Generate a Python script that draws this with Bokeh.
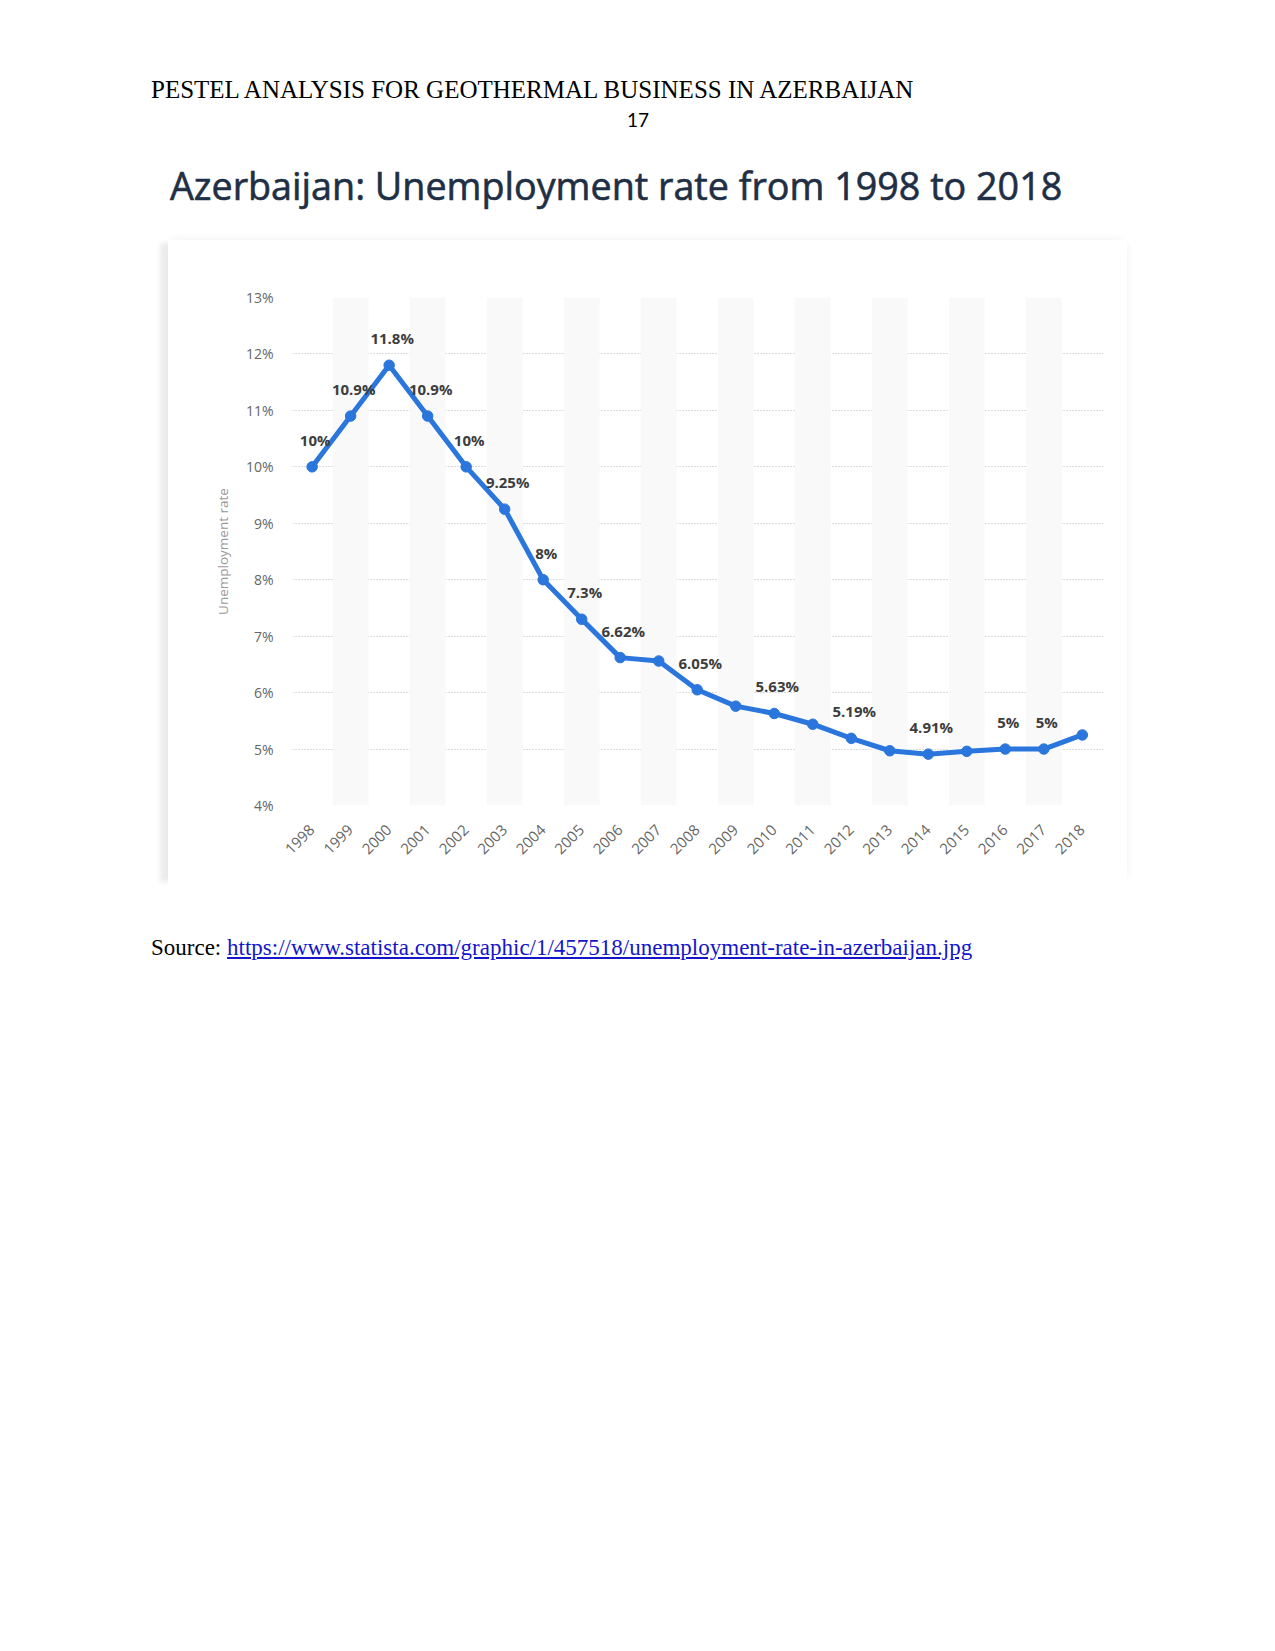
import math
from bokeh.plotting import figure
from bokeh.models import Range1d, FixedTicker, Div, Spacer
from bokeh.layouts import column, row
from bokeh.embed import file_html
from bokeh.resources import INLINE
from bokeh.core.properties import value

# ---------------- data ----------------
years = [1998, 1999, 2000, 2001, 2002, 2003, 2004, 2005, 2006, 2007, 2008,
         2009, 2010, 2011, 2012, 2013, 2014, 2015, 2016, 2017, 2018]
rates = [10.0, 10.9, 11.8, 10.9, 10.0, 9.25, 8.0, 7.3, 6.62, 6.56, 6.05,
         5.76, 5.63, 5.44, 5.19, 4.97, 4.91, 4.96, 5.0, 5.0, 5.25]
point_labels = ["10%", "10.9%", "11.8%", "10.9%", "10%", "9.25%", "8%", "7.3%",
                "6.62%", "", "6.05%", "", "5.63%", "", "5.19%", "", "4.91%",
                "", "5%", "5%", ""]
y_ticks = [4, 5, 6, 7, 8, 9, 10, 11, 12, 13]
y_tick_labels = ["4%", "5%", "6%", "7%", "8%", "9%", "10%", "11%", "12%", "13%"]
band_years = [1999, 2001, 2003, 2005, 2007, 2009, 2011, 2013, 2015, 2017]

header_text = "PESTEL ANALYSIS FOR GEOTHERMAL BUSINESS IN AZERBAIJAN"
page_number = "17"
chart_title = "Azerbaijan: Unemployment rate from 1998 to 2018"
y_axis_title = "Unemployment rate"
source_url = "https://www.statista.com/graphic/1/457518/unemployment-rate-in-azerbaijan.jpg"

BLUE = "#2a76dc"

# ---------------- header ----------------
header = Div(
    text=(
        '<div style="position:relative;width:1259px;height:232px;">'
        '<div style="position:absolute;left:143px;top:69px;font-family:\'Liberation Serif\';'
        'font-size:25px;line-height:25px;color:#000;white-space:nowrap;">' + header_text + '</div>'
        '<div style="position:absolute;left:630px;top:102px;transform:translateX(-50%);'
        'font-family:Lato;font-size:19px;line-height:19px;color:#000;white-space:nowrap;">' + page_number + '</div>'
        '<div style="position:absolute;left:162px;top:159px;font-family:\'Open Sans\';'
        '-webkit-text-stroke:0.6px #1f2f45;'
        'font-size:37.7px;line-height:37.7px;color:#1f2f45;white-space:nowrap;">' + chart_title + '</div>'
        '</div>'
    ),
    width=1259, height=232, margin=(0, 0, 0, 0),
)

# ---------------- chart card ----------------
p = figure(
    width=959, height=645,
    x_range=Range1d(1997.49, 2018.55), y_range=Range1d(4, 13),
    output_backend="svg", toolbar_location=None,
    min_border_left=124, min_border_right=24, min_border_top=57, min_border_bottom=80,
    background_fill_color="white", border_fill_color="white",
    outline_line_color=None, margin=(0, 0, 0, 0),
)
p.styles = {"box-shadow": "-11px 0 5px -3px rgba(0,0,0,0.08), 0 -5px 10px -4px rgba(0,0,0,0.05), 6px 0 10px -6px rgba(0,0,0,0.05)"}

# alternating column bands
p.vbar(x=band_years, top=13, bottom=4, width=0.93, color="#f9f9f9", line_color=None)

# grid
p.xgrid.grid_line_color = None
p.ygrid.ticker = FixedTicker(ticks=y_ticks)
p.ygrid.grid_line_color = "#b8b8b8"
p.ygrid.grid_line_dash = "1 2"
p.ygrid.grid_line_width = 1

# axes
p.yaxis.ticker = FixedTicker(ticks=y_ticks)
p.yaxis.major_label_overrides = {t: l for t, l in zip(y_ticks, y_tick_labels)}
p.yaxis.axis_line_color = None
p.yaxis.major_tick_line_color = None
p.yaxis.minor_tick_line_color = None
p.yaxis.major_tick_out = 0
p.yaxis.major_tick_in = 0
p.yaxis.major_label_standoff = 19
p.yaxis.major_label_text_font = "Open Sans"
p.yaxis.major_label_text_font_size = "14px"
p.yaxis.major_label_text_color = "#666666"
p.yaxis.axis_label = y_axis_title
p.yaxis.axis_label_text_font = "Open Sans"
p.yaxis.axis_label_text_font_size = "13.5px"
p.yaxis.axis_label_text_font_style = "normal"
p.yaxis.axis_label_text_color = "#999999"
p.yaxis.axis_label_standoff = 11

p.xaxis.ticker = FixedTicker(ticks=years)
p.xaxis.major_label_overrides = {y: str(y) for y in years}
p.xaxis.axis_line_color = None
p.xaxis.major_tick_line_color = None
p.xaxis.minor_tick_line_color = None
p.xaxis.major_tick_out = 0
p.xaxis.major_tick_in = 0
p.xaxis.major_label_standoff = 22
p.xaxis.major_label_orientation = math.pi / 4
p.xaxis.major_label_text_font = "Open Sans"
p.xaxis.major_label_text_font_size = "15px"
p.xaxis.major_label_text_color = "#666666"

# line + markers
p.line(years, rates, line_width=5, color=BLUE, line_join="round", line_cap="round")
p.scatter(years, rates, size=10.5, color=BLUE)

# point labels
p.text(x=years, y=rates, text=point_labels, x_offset=3, y_offset=-27,
       text_align="center", text_baseline="middle",
       text_font=value("Open Sans"), text_font_style="bold",
       text_font_size="15px", text_color="#3d3d3d")

# ---------------- source ----------------
source = Div(
    text=(
        '<div style="position:relative;width:1259px;height:100px;">'
        '<div style="position:absolute;left:143px;top:51px;font-family:\'Liberation Serif\';'
        'font-size:23px;line-height:23px;color:#000;white-space:nowrap;">Source: '
        '<a href="' + source_url + '" style="color:#1515cc;text-decoration:underline;">'
        + source_url + '</a></div></div>'
    ),
    width=1259, height=100, margin=(0, 0, 0, 0),
)

layout = column(
    header,
    row(Spacer(width=160, height=645, margin=(0, 0, 0, 0)), p, margin=(0, 0, 0, 0)),
    source,
    margin=(8, 0, 0, 8),
)

open("out.html", "w").write(file_html(layout, INLINE))
